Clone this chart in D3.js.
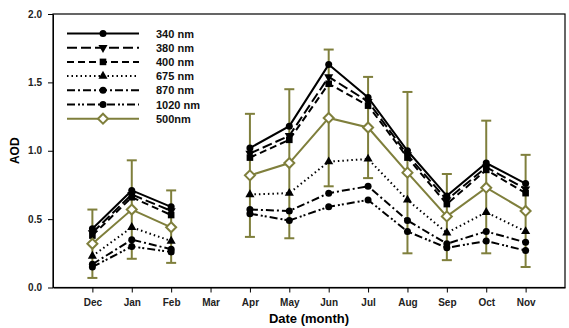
<!DOCTYPE html>
<html>
<head>
  <meta charset="utf-8">
  <style type="text/css">
    body { margin: 0; background: #fff; }
    svg { font-family: "Liberation Sans", Arial, sans-serif; }
    .axis text { font-size: 10px; font-weight: bold; fill: #222; }
    .axis path, .axis line { stroke: #000; stroke-width: 1px; }
    .frame { fill: none; stroke: #000; stroke-width: 1.2px; }
    .legend text { font-size: 11px; font-weight: bold; fill: #111; }
  </style>
</head>
<body>
  <script src="https://d3js.org/d3.v7.min.js"></script>
  <script>
  // months in plot order, Mar has no data
  var months = ["Dec","Jan","Feb","Mar","Apr","May","Jun","Jul","Aug","Sep","Oct","Nov"];
  var yTicks = [0, 0.5, 1.0, 1.5, 2.0];

  var aod340  = [0.43, 0.71, 0.59, null, 1.02, 1.18, 1.63, 1.39, 1.00, 0.67, 0.91, 0.76];
  var aod380  = [0.40, 0.68, 0.56, null, 0.98, 1.11, 1.54, 1.36, 0.97, 0.64, 0.88, 0.72];
  var aod400  = [0.38, 0.66, 0.53, null, 0.95, 1.08, 1.49, 1.33, 0.95, 0.61, 0.86, 0.69];
  var aod675  = [0.23, 0.44, 0.34, null, 0.68, 0.69, 0.92, 0.94, 0.64, 0.40, 0.55, 0.41];
  var aod870  = [0.17, 0.35, 0.28, null, 0.57, 0.56, 0.69, 0.74, 0.49, 0.32, 0.41, 0.33];
  var aod1020 = [0.15, 0.30, 0.26, null, 0.54, 0.49, 0.59, 0.64, 0.41, 0.29, 0.34, 0.27];
  var aod500  = [0.32, 0.57, 0.44, null, 0.82, 0.91, 1.24, 1.17, 0.84, 0.52, 0.73, 0.56];
  var err500lo = [0.07, 0.21, 0.18, null, 0.37, 0.36, 0.74, 0.80, 0.25, 0.20, 0.25, 0.15];
  var err500hi = [0.57, 0.93, 0.71, null, 1.27, 1.45, 1.74, 1.54, 1.43, 0.83, 1.22, 0.97];

  var series = [
    {name: "340 nm", values: aod340, dash: null, marker: "circle"},
    {name: "380 nm", values: aod380, dash: "10,4", marker: "tridown"},
    {name: "400 nm", values: aod400, dash: "7,4", marker: "square"},
    {name: "675 nm", values: aod675, dash: "1.5,3", marker: "triup"},
    {name: "870 nm", values: aod870, dash: "8,3,2,3", marker: "circle"},
    {name: "1020 nm", values: aod1020, dash: "8,3,2,2,2,3", marker: "circle"},
    {name: "500nm", values: aod500, dash: null, marker: "diamond", olive: true}
  ];

  var olive = "#7f7f3c";
  var W = 569, H = 328;
  var margin = {left: 53, right: 565, top: 14, bottom: 287.5};

  var svg = d3.select("body").append("svg")
    .attr("width", W).attr("height", H);

  var x = d3.scalePoint().domain(months).range([margin.left, margin.right]).padding(1);
  var y = d3.scaleLinear().domain([0, 2]).range([margin.bottom, margin.top]);

  // axes
  svg.append("g")
    .attr("class", "x axis")
    .attr("transform", "translate(0," + margin.bottom + ")")
    .call(d3.axisBottom(x).tickSize(5).tickPadding(6).tickSizeOuter(0));

  svg.append("g")
    .attr("class", "y axis")
    .attr("transform", "translate(" + margin.left + ",0)")
    .call(d3.axisLeft(y).tickValues(yTicks).tickFormat(d3.format(".1f")).tickSize(5).tickPadding(6).tickSizeOuter(0));

  svg.append("rect").attr("class", "frame")
    .attr("x", margin.left).attr("y", margin.top)
    .attr("width", margin.right - margin.left).attr("height", margin.bottom - margin.top);

  svg.append("text")
    .attr("transform", "translate(19," + ((margin.top + margin.bottom) / 2) + ") rotate(-90)")
    .attr("text-anchor", "middle")
    .style("font-size", "12px").style("font-weight", "bold")
    .text("AOD");

  svg.append("text")
    .attr("x", (margin.left + margin.right) / 2).attr("y", 323)
    .attr("text-anchor", "middle")
    .style("font-size", "13px").style("font-weight", "bold")
    .text("Date (month)");

  function drawMarker(g, type, cx, cy, col) {
    if (type === "circle") {
      g.append("circle").attr("cx", cx).attr("cy", cy).attr("r", 3.5).attr("fill", col);
    } else if (type === "square") {
      g.append("rect").attr("x", cx - 3.3).attr("y", cy - 3.3).attr("width", 6.6).attr("height", 6.6).attr("fill", col);
    } else if (type === "triup") {
      g.append("path").attr("d", d3.symbol().type(d3.symbolTriangle).size(36)()).attr("transform", "translate(" + cx + "," + cy + ")").attr("fill", col);
    } else if (type === "tridown") {
      g.append("path").attr("d", d3.symbol().type(d3.symbolTriangle).size(36)()).attr("transform", "translate(" + cx + "," + cy + ") rotate(180)").attr("fill", col);
    } else if (type === "diamond") {
      g.append("path").attr("d", "M0,-5L5,0L0,5L-5,0Z").attr("transform", "translate(" + cx + "," + cy + ")")
        .attr("fill", "#fff").attr("stroke", olive).attr("stroke-width", 2);
    }
  }

  // error bars for 500 nm
  var eb = svg.append("g").attr("stroke", olive).attr("stroke-width", 2);
  months.forEach(function(m, i) {
    if (err500lo[i] == null) return;
    var cx = x(m);
    eb.append("line").attr("x1", cx).attr("x2", cx).attr("y1", y(err500lo[i])).attr("y2", y(err500hi[i]));
    eb.append("line").attr("x1", cx - 5).attr("x2", cx + 5).attr("y1", y(err500lo[i])).attr("y2", y(err500lo[i]));
    eb.append("line").attr("x1", cx - 5).attr("x2", cx + 5).attr("y1", y(err500hi[i])).attr("y2", y(err500hi[i]));
  });

  var line = d3.line()
    .defined(function(d) { return d != null; })
    .x(function(d, i) { return x(months[i]); })
    .y(function(d) { return y(d); });

  series.forEach(function(s) {
    var col = s.olive ? olive : "#000";
    var g = svg.append("g");
    g.append("path")
      .attr("d", line(s.values))
      .attr("fill", "none")
      .attr("stroke", col)
      .attr("stroke-width", 2)
      .attr("stroke-dasharray", s.dash);
    s.values.forEach(function(v, i) {
      if (v == null) return;
      drawMarker(g, s.marker, x(months[i]), y(v), col);
    });
  });

  // legend
  var leg = svg.append("g").attr("class", "legend");
  series.forEach(function(s, i) {
    var col = s.olive ? olive : "#000";
    var ly = 33.5 + i * 14.2;
    leg.append("line")
      .attr("x1", 67).attr("x2", 139).attr("y1", ly).attr("y2", ly)
      .attr("stroke", col).attr("stroke-width", 2)
      .attr("stroke-dasharray", s.dash);
    drawMarker(leg, s.marker, 103, ly, col);
    leg.append("text").attr("x", 156).attr("y", ly + 4).text(s.name);
  });
  </script>
</body>
</html>
